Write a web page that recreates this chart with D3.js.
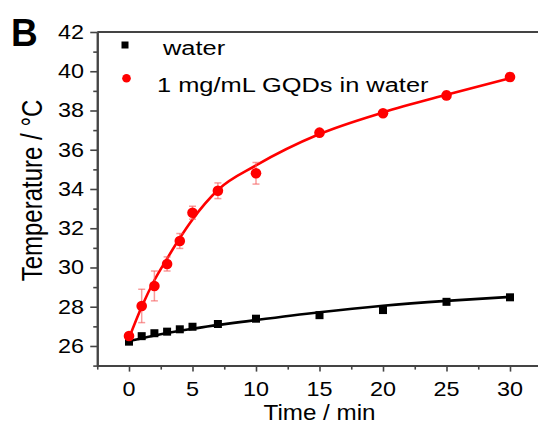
<html>
<head>
<script src="https://d3js.org/d3.v7.min.js"></script>
<style>
  body { margin: 0; background: #fff; }
  svg text { font-family: "Liberation Sans", Arial, sans-serif; fill: #000; }
</style>
</head>
<body>
<div id="chart"></div>
<script>
// measured data (time in min, temperature in °C)
var times = [0, 1, 2, 3, 4, 5, 7, 10, 15, 20, 25, 30];
var water = [26.22, 26.5, 26.65, 26.73, 26.85, 26.98, 27.12, 27.39, 27.57, 27.83, 28.25, 28.48];
var gqds = [26.51, 28.04, 29.06, 30.18, 31.35, 32.79, 33.91, 34.8, 36.87, 37.86, 38.77, 39.71];
var gqdsErr = [0.1, 0.85, 0.76, 0.36, 0.38, 0.33, 0.4, 0.55, 0.15, 0.1, 0.2, 0.2];

// fitted curves
var waterFitTimes = [0, 2.5, 5, 10, 15, 20, 25, 30];
var waterFit = [26.25, 26.6, 26.88, 27.32, 27.72, 28.05, 28.3, 28.5];
var gqdsFitTimes = [0, 1, 2, 3, 4, 5, 7, 10, 15, 20, 25, 30];
var gqdsFit = [26.4, 28.0, 29.35, 30.45, 31.5, 32.45, 33.95, 35.2, 36.8, 37.9, 38.8, 39.65];

var xTicks = [0, 5, 10, 15, 20, 25, 30];
var xMinor = [-2.5, 2.5, 7.5, 12.5, 17.5, 22.5, 27.5, 32.5];
var yTicks = [26, 28, 30, 32, 34, 36, 38, 40, 42];
var yMinor = [25, 27, 29, 31, 33, 35, 37, 39, 41];

var legendLabels = ["water", "1 mg/mL GQDs in water"];

var W = 538, H = 426;
var svg = d3.select("#chart").append("svg")
    .attr("width", W).attr("height", H);

var x = d3.scaleLinear().domain([-2.5, 32.5]).range([97.25, 541.75]);
var y = d3.scaleLinear().domain([25, 42]).range([365.6, 32]);

var axisColor = "#444";

// ticks
function styleAxis(g) {
  g.selectAll("path").attr("stroke", axisColor).attr("stroke-width", 2);
  g.selectAll("line").attr("stroke", axisColor).attr("stroke-width", 1.6);
}
svg.append("g").attr("transform", "translate(" + x(-2.5) + ",0)")
  .call(d3.axisLeft(y).tickValues(yTicks).tickSize(7).tickSizeOuter(0).tickFormat(""))
  .call(styleAxis);
svg.append("g").attr("transform", "translate(" + x(-2.5) + ",0)")
  .call(d3.axisLeft(y).tickValues(yMinor).tickSize(4).tickSizeOuter(0).tickFormat(""))
  .call(styleAxis);
svg.append("g").attr("transform", "translate(0," + y(25) + ")")
  .call(d3.axisBottom(x).tickValues(xTicks).tickSize(6).tickSizeOuter(0).tickFormat(""))
  .call(styleAxis);
svg.append("g").attr("transform", "translate(0," + y(25) + ")")
  .call(d3.axisBottom(x).tickValues(xMinor).tickSize(4).tickSizeOuter(0).tickFormat(""))
  .call(styleAxis);
// top border
svg.append("line")
  .attr("x1", x(-2.5)).attr("x2", x(32.5)).attr("y1", y(42)).attr("y2", y(42))
  .attr("stroke", axisColor).attr("stroke-width", 2);
svg.append("line")
  .attr("x1", x(32.5)).attr("x2", x(32.5)).attr("y1", y(42)).attr("y2", y(25))
  .attr("stroke", axisColor).attr("stroke-width", 2);

// tick labels (original figure is horizontally stretched)
svg.selectAll(".ylab").data(yTicks).enter().append("text")
  .attr("transform", function(d) { return "translate(84," + (y(d) + 7) + ") scale(1.17,1)"; })
  .attr("text-anchor", "end").attr("font-size", 20)
  .text(function(d) { return d; });
svg.selectAll(".xlab").data(xTicks).enter().append("text")
  .attr("transform", function(d) { return "translate(" + x(d) + ",396) scale(1.17,1)"; })
  .attr("text-anchor", "middle").attr("font-size", 20)
  .text(function(d) { return d; });

// axis titles
svg.append("text")
  .attr("transform", "translate(" + ((x(-2.5) + x(32.5)) / 2) + ",420) scale(1.1,1)")
  .attr("text-anchor", "middle").attr("font-size", 22)
  .text("Time / min");
svg.append("text")
  .attr("transform", "translate(42,190.5) scale(1.2,1) rotate(-90)")
  .attr("text-anchor", "middle").attr("font-size", 24)
  .text("Temperature / \u00B0C");

svg.append("text")
  .attr("transform", "translate(11,46) scale(0.95,1)")
  .attr("font-size", 39).attr("font-weight", "bold")
  .text("B");

// fit lines
var line = d3.line().curve(d3.curveMonotoneX)
  .x(function(d) { return x(d[0]); }).y(function(d) { return y(d[1]); });

svg.append("path")
  .datum(d3.zip(waterFitTimes, waterFit))
  .attr("d", line).attr("fill", "none").attr("stroke", "#000").attr("stroke-width", 2.6);
svg.append("path")
  .datum(d3.zip(gqdsFitTimes, gqdsFit))
  .attr("d", line).attr("fill", "none").attr("stroke", "#ff0000").attr("stroke-width", 2.6);

// error bars
var errColor = "rgba(245,90,90,0.6)";
var eb = svg.append("g").selectAll("g").data(d3.zip(times, gqds, gqdsErr)).enter().append("g");
eb.append("line")
  .attr("x1", function(d) { return x(d[0]); }).attr("x2", function(d) { return x(d[0]); })
  .attr("y1", function(d) { return y(d[1] - d[2]); }).attr("y2", function(d) { return y(d[1] + d[2]); })
  .attr("stroke", errColor).attr("stroke-width", 1.5);
eb.selectAll(".cap").data(function(d) { return [[d[0], d[1] - d[2]], [d[0], d[1] + d[2]]]; })
  .enter().append("line")
  .attr("x1", function(d) { return x(d[0]) - 3.5; }).attr("x2", function(d) { return x(d[0]) + 3.5; })
  .attr("y1", function(d) { return y(d[1]); }).attr("y2", function(d) { return y(d[1]); })
  .attr("stroke", errColor).attr("stroke-width", 1.5);

// markers
svg.append("g").selectAll("rect").data(d3.zip(times, water)).enter().append("rect")
  .attr("x", function(d) { return x(d[0]) - 4; }).attr("y", function(d) { return y(d[1]) - 4; })
  .attr("width", 8).attr("height", 8).attr("fill", "#000");
svg.append("g").selectAll("circle").data(d3.zip(times, gqds)).enter().append("circle")
  .attr("cx", function(d) { return x(d[0]); }).attr("cy", function(d) { return y(d[1]); })
  .attr("r", 5.3).attr("fill", "#ff0000");

// legend
svg.append("rect").attr("x", 121.5).attr("y", 41.5).attr("width", 7).attr("height", 7).attr("fill", "#000");
svg.append("circle").attr("cx", 126.5).attr("cy", 78.3).attr("r", 4.3).attr("fill", "#ff0000");
svg.append("text")
  .attr("transform", "translate(163,55) scale(1.27,1)")
  .attr("font-size", 20).text(legendLabels[0]);
svg.append("text")
  .attr("transform", "translate(157,92) scale(1.27,1)")
  .attr("font-size", 20).text(legendLabels[1]);
</script>
</body>
</html>
